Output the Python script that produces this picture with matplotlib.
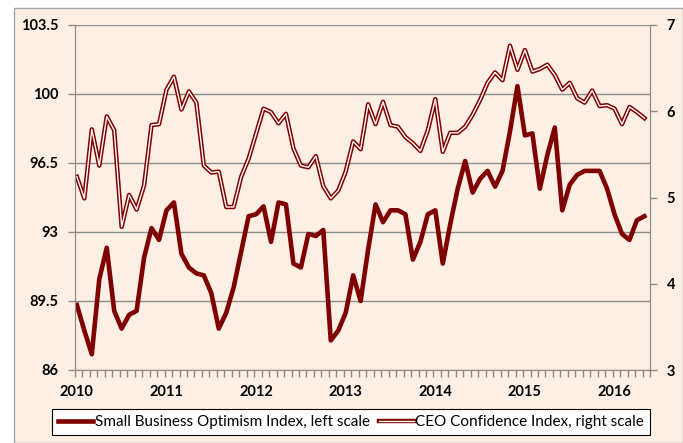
import numpy as np
import matplotlib
matplotlib.use('Agg')
import matplotlib.pyplot as plt
from matplotlib.lines import Line2D
from matplotlib.patches import Rectangle
from matplotlib.legend_handler import HandlerTuple

plt.rcParams['font.family'] = ['Lato', 'DejaVu Sans']

# monthly data, Jan 2010 - May 2016
sboi = [89.3, 88.0, 86.8, 90.6, 92.2, 89.0, 88.1, 88.8, 89.0, 91.7, 93.2, 92.6,
        94.1, 94.5, 91.9, 91.2, 90.9, 90.8, 89.9, 88.1, 88.9, 90.2, 92.0, 93.8,
        93.9, 94.3, 92.5, 94.5, 94.4, 91.4, 91.2, 92.9, 92.8, 93.1, 87.5, 88.0,
        88.9, 90.8, 89.5, 92.1, 94.4, 93.5, 94.1, 94.1, 93.9, 91.6, 92.5, 93.9,
        94.1, 91.4, 93.4, 95.2, 96.6, 95.0, 95.7, 96.1, 95.3, 96.1, 98.1, 100.4,
        97.9, 98.0, 95.2, 96.9, 98.3, 94.1, 95.4, 95.9, 96.1, 96.1, 96.1, 95.2,
        93.9, 92.9, 92.6, 93.6, 93.8]
ceo = [5.24, 4.99, 5.79, 5.37, 5.94, 5.78, 4.66, 5.03, 4.86, 5.14, 5.84, 5.85,
       6.25, 6.40, 6.02, 6.23, 6.10, 5.37, 5.29, 5.30, 4.89, 4.89, 5.24, 5.45,
       5.74, 6.03, 5.99, 5.86, 5.97, 5.57, 5.37, 5.35, 5.48, 5.13, 4.99, 5.08,
       5.30, 5.65, 5.56, 6.08, 5.85, 6.11, 5.84, 5.82, 5.70, 5.63, 5.54, 5.78,
       6.14, 5.53, 5.75, 5.75, 5.82, 5.96, 6.13, 6.33, 6.45, 6.36, 6.76, 6.48,
       6.71, 6.46, 6.49, 6.54, 6.42, 6.25, 6.33, 6.15, 6.10, 6.24, 6.06, 6.07,
       6.03, 5.85, 6.05, 5.99, 5.92]
years = ['2010', '2011', '2012', '2013', '2014', '2015', '2016']
left_ticks = [86, 89.5, 93, 96.5, 100, 103.5]
right_ticks = [3, 4, 5, 6, 7]

red = '#7F0000'
grey = '#8C8C8C'
bg = '#FDEFE3'
months = np.arange(len(sboi))

fig = plt.figure(figsize=(6.83, 4.43), dpi=100, facecolor='white')
# peach chart area with thin border
fig.patches.append(Rectangle((14/683, 0), 1 - 14/683 - 0.5/683, 1 - 8/443,
                             transform=fig.transFigure, facecolor=bg,
                             edgecolor='#A6A6A6', linewidth=1, zorder=-10))

ax = fig.add_axes([75/683, 1 - 370/443, 575/683, 345/443])
ax.set_facecolor('none')
ax2 = ax.twinx()

ax.plot(months, sboi, color=red, linewidth=3.3, solid_joinstyle='round', zorder=3)
ax2.plot(months, ceo, color=red, linewidth=3.2, solid_joinstyle='round')
ax2.plot(months, ceo, color='white', linewidth=1.0, solid_joinstyle='round')

ax.set_xlim(-0.25, 76.75)
ax.set_ylim(86, 103.5)
ax2.set_ylim(3, 7)

ax.set_yticks(left_ticks)
ax.set_yticklabels(['%g' % t for t in left_ticks])
ax2.set_yticks(right_ticks)
ax2.set_yticklabels([str(t) for t in right_ticks])
ax.set_xticks(np.arange(0, len(sboi), 12))
ax.set_xticklabels(years)
ax.set_xticks(np.arange(-0.25, 77, 1), minor=True)

ax.grid(axis='y', color=grey, linewidth=1)
ax.set_axisbelow(True)

for a in (ax, ax2):
    for s in a.spines.values():
        s.set_color(grey)
    a.spines['top'].set_visible(False)

ax.tick_params(axis='y', length=5, width=1, color=grey, pad=7, labelsize=10.5)
ax.tick_params(axis='x', which='major', length=0, pad=11, labelsize=10.5)
ax.tick_params(axis='x', which='minor', length=5, width=1, color=grey)
ax2.tick_params(axis='y', length=5, width=1, color=grey, pad=7, labelsize=10.5)
for lab in ax.get_xticklabels() + ax.get_yticklabels() + ax2.get_yticklabels():
    lab.set_fontweight('bold')

h1 = Line2D([], [], color=red, linewidth=3.3)
h2a = Line2D([], [], color=red, linewidth=3.2)
h2b = Line2D([], [], color='white', linewidth=1.0)
leg = fig.legend([h1, (h2a, h2b)],
                 ['Small Business Optimism Index, left scale',
                  'CEO Confidence Index, right scale'],
                 handler_map={tuple: HandlerTuple(ndivide=1)},
                 loc='center', bbox_to_anchor=(351/683, 1 - 422/443),
                 ncol=2, fontsize=11, frameon=True, fancybox=False,
                 edgecolor='black', facecolor='white', framealpha=1,
                 handlelength=2.3, handletextpad=0.1, columnspacing=0.6,
                 borderpad=0.4, borderaxespad=0)
leg.get_frame().set_linewidth(0.8)

fig.savefig('out.png', dpi=100, facecolor=fig.get_facecolor())
